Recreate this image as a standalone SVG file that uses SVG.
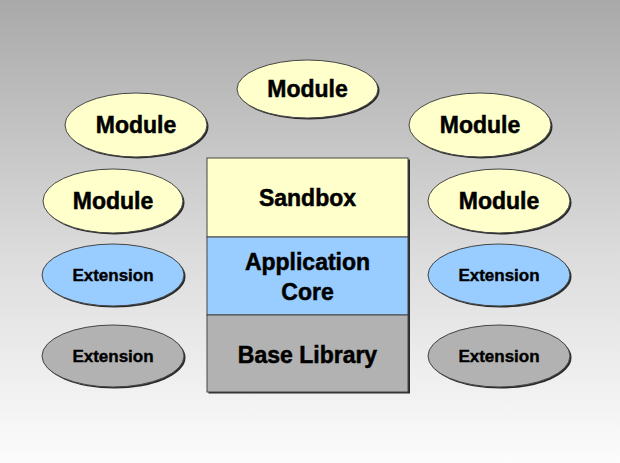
<svg xmlns="http://www.w3.org/2000/svg" width="620" height="463" viewBox="0 0 620 463">
<defs>
<linearGradient id="bg" x1="0" y1="0" x2="0" y2="1">
<stop offset="0" stop-color="#a9a9a9"/>
<stop offset="0.55" stop-color="#dcdcdc"/>
<stop offset="1" stop-color="#fcfcfc"/>
</linearGradient>
</defs>
<style>
.sh{fill:#2a2a2a}
.yel{fill:#ffffcc;stroke:#444;stroke-width:1}
.blu{fill:#99ccff;stroke:#444;stroke-width:1}
.gry{fill:#b2b2b2;stroke:#444;stroke-width:1}
text{font-family:"Liberation Sans",Arial,sans-serif;font-weight:bold;fill:#000;stroke:#000;stroke-width:0.5;text-anchor:middle}
.big{font-size:23px}
.ext{font-size:17px;stroke-width:0.4}
</style>
<rect width="620" height="463" fill="url(#bg)"/>
<g id="module-top">
<ellipse class="sh" cx="309" cy="90.5" rx="70.5" ry="29"/>
<ellipse class="yel" cx="307.5" cy="89" rx="70.5" ry="29"/>
<text class="big" x="307.5" y="96.5">Module</text>
</g>
<g id="module-left-upper">
<ellipse class="sh" cx="137.5" cy="126.5" rx="71" ry="32"/>
<ellipse class="yel" cx="136" cy="125" rx="71" ry="32"/>
<text class="big" x="136" y="133">Module</text>
</g>
<g id="module-left-lower">
<ellipse class="sh" cx="114.5" cy="202.5" rx="70" ry="32"/>
<ellipse class="yel" cx="113" cy="201" rx="70" ry="32"/>
<text class="big" x="113" y="208.5">Module</text>
</g>
<g id="extension-left-blue">
<ellipse class="sh" cx="114.5" cy="276.5" rx="71" ry="31"/>
<ellipse class="blu" cx="113" cy="275" rx="71" ry="31"/>
<text class="ext" x="113" y="281">Extension</text>
</g>
<g id="extension-left-gray">
<ellipse class="sh" cx="114.5" cy="357.5" rx="71" ry="31"/>
<ellipse class="gry" cx="113" cy="356" rx="71" ry="31"/>
<text class="ext" x="113" y="362">Extension</text>
</g>
<g id="module-right-upper">
<ellipse class="sh" cx="481.5" cy="126.5" rx="71" ry="32"/>
<ellipse class="yel" cx="480" cy="125" rx="71" ry="32"/>
<text class="big" x="480" y="133">Module</text>
</g>
<g id="module-right-lower">
<ellipse class="sh" cx="500.5" cy="202.5" rx="71" ry="32"/>
<ellipse class="yel" cx="499" cy="201" rx="71" ry="32"/>
<text class="big" x="499" y="208.5">Module</text>
</g>
<g id="extension-right-blue">
<ellipse class="sh" cx="500.5" cy="276.5" rx="71" ry="31"/>
<ellipse class="blu" cx="499" cy="275" rx="71" ry="31"/>
<text class="ext" x="499" y="281">Extension</text>
</g>
<g id="extension-right-gray">
<ellipse class="sh" cx="500.5" cy="357.5" rx="71" ry="31"/>
<ellipse class="gry" cx="499" cy="356" rx="71" ry="31"/>
<text class="ext" x="499" y="362">Extension</text>
</g>
<g id="stack-shadow">
<rect class="sh" x="208.5" y="159.5" width="201.5" height="234"/>
</g>
<g id="sandbox">
<rect class="yel" x="207" y="158" width="201" height="79"/>
<text class="big" x="307.5" y="205.5">Sandbox</text>
</g>
<g id="application-core">
<rect class="blu" x="207" y="237" width="201" height="78"/>
<text class="big" x="307.5" y="270">Application</text>
<text class="big" x="307.5" y="300">Core</text>
</g>
<g id="base-library">
<rect class="gry" x="207" y="315" width="201" height="77"/>
<text class="big" x="307.5" y="362.5">Base Library</text>
</g>
<g id="connectors"/>
</svg>
